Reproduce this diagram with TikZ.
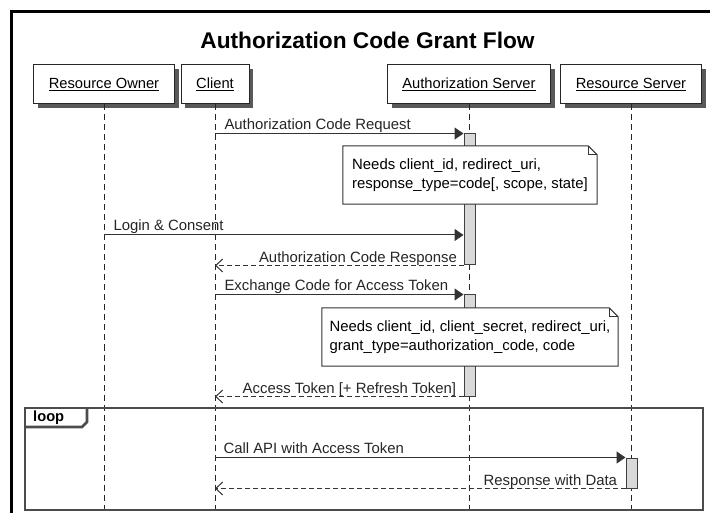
\documentclass[tikz,border=0pt]{standalone}
\usepackage{fontspec}
\setmainfont{Liberation Sans}
\usepackage{tikz}
\usetikzlibrary{arrows.meta, positioning, shadows}
\tikzset{
    actor/.style={
      draw=black!85, fill=white, line width=1pt,
      minimum height=39pt, inner sep=0pt,
      drop shadow={shadow xshift=4pt, shadow yshift=-4pt, fill=black!65, opacity=1},
      font=\fontsize{14.7}{17}\selectfont,
    },
    life/.style={draw=black!85, line width=0.9pt, dash pattern=on 6pt off 4pt},
    act/.style={draw=black!75, fill=black!15, line width=1pt, minimum width=11pt, inner sep=0pt},
    msg/.style={
      draw=black!80, line width=1pt, %line colour
      -{Triangle[length=9pt, width=12pt]}, %filled head
    },
    reply/.style={
      draw=black!80, line width=1pt, dash pattern=on 5pt off 3pt,
      -{Straight Barb[length=7pt, width=13pt]}, %open head
    },
    lbl/.style={font=\fontsize{14.9}{17}\selectfont, inner sep=2pt, text=black!85},
    note/.style={
      fill=white, inner sep=0pt, minimum height=58pt,
      align=left, font=\fontsize{14.9}{19.5}\selectfont,
    },
    notebox/.style={draw=black!80, line width=1pt},
    loopframe/.style={draw=black!70, line width=2.8pt},
}

\begin{document}
\begin{tikzpicture}[x=1pt, y=-1pt]
  \useasboundingbox (0,0) rectangle (710,513);
  \coordinate (bot) at (0,513);

  % outer frame and title
  \draw[line width=3pt] (11,513) -- (11,12) -- (710,12);
  \node[font=\bfseries\fontsize{22.7}{26}\selectfont] (title) at (367.5,40) {Authorization Code Grant Flow};

  % participants
  \node[actor, minimum width=141pt] (ro) at (104,84.5) {\underline{Resource Owner}};
  \node[actor, minimum width=68pt] (cl) at (215,84.5) {\underline{Client}};
  \node[actor, minimum width=163pt] (as) at (469,84.5) {\underline{Authorization Server}};
  \node[actor, minimum width=141pt] (rs) at (631,84.5) {\underline{Resource Server}};

  \foreach \p in {ro, cl, as, rs}
    \draw[life] (\p.south) -- (\p |- bot);

  % loop fragment
  \draw[loopframe] (25,408) rectangle (703,510);
  \draw[loopframe] (25,427) -- (82,427) -- (87,422) -- (87,408);
  \node[font=\bfseries\fontsize{14.7}{17}\selectfont, anchor=west, inner sep=2pt] (lp) at (31,417.5) {loop};

  % activations
  \node[act, minimum height=131pt] (a1) at (469.5,199.5) {};
  \node[act, minimum height=101pt] (a2) at (469.5,345.5) {};
  \node[act, minimum height=30pt] (a3) at (631.5,473) {};

  % notes
  \node[note, minimum width=254pt] (n1) at (470,175)
    {Needs client\_id, redirect\_uri,\\response\_type=code[, scope, state]};
  \draw[notebox] (n1.north west) -- ([xshift=-9pt]n1.north east) -- ([yshift=-9pt]n1.north east)
    -- (n1.south east) -- (n1.south west) -- cycle;
  \draw[notebox] ([xshift=-9pt]n1.north east) |- ([yshift=-9pt]n1.north east);

  \node[note, minimum width=296pt] (n2) at (470,337)
    {Needs client\_id, client\_secret, redirect\_uri,\\grant\_type=authorization\_code, code};
  \draw[notebox] (n2.north west) -- ([xshift=-9pt]n2.north east) -- ([yshift=-9pt]n2.north east)
    -- (n2.south east) -- (n2.south west) -- cycle;
  \draw[notebox] ([xshift=-9pt]n2.north east) |- ([yshift=-9pt]n2.north east);

  % messages
  \coordinate (c1) at (cl |- a1.north);
  \coordinate (c2) at (ro |- 0,235);
  \coordinate (c3) at (cl |- a1.south);
  \coordinate (c4) at (cl |- a2.north);
  \coordinate (c5) at (cl |- a2.south);
  \coordinate (c6) at (cl |- a3.north);
  \coordinate (c7) at (cl |- a3.south);

  \draw[msg] (c1) -- (a1.north west)
    node[lbl, pos=0, anchor=base west, xshift=7pt, yshift=4pt] {Authorization Code Request};
  \draw[msg] (c2) -- (c2 -| a1.west)
    node[lbl, pos=0, anchor=base west, xshift=7pt, yshift=4pt] {Login \& Consent};
  \draw[reply] (a1.south west) -- (c3)
    node[lbl, pos=0, anchor=base east, xshift=-4pt, yshift=3pt] {Authorization Code Response};
  \draw[msg] (c4) -- (a2.north west)
    node[lbl, pos=0, anchor=base west, xshift=7pt, yshift=4pt] {Exchange Code for Access Token};
  \draw[reply] (a2.south west) -- (c5)
    node[lbl, pos=0, anchor=base east, xshift=-5pt, yshift=3pt] {Access Token [+ Refresh Token]};
  \draw[msg] (c6) -- (a3.north west)
    node[lbl, pos=0, anchor=base west, xshift=6pt, yshift=4pt] {Call API with Access Token};
  \draw[reply] (a3.south west) -- (c7)
    node[lbl, pos=0, anchor=base east, xshift=-6pt, yshift=3pt] {Response with Data};
\end{tikzpicture}
\end{document}
